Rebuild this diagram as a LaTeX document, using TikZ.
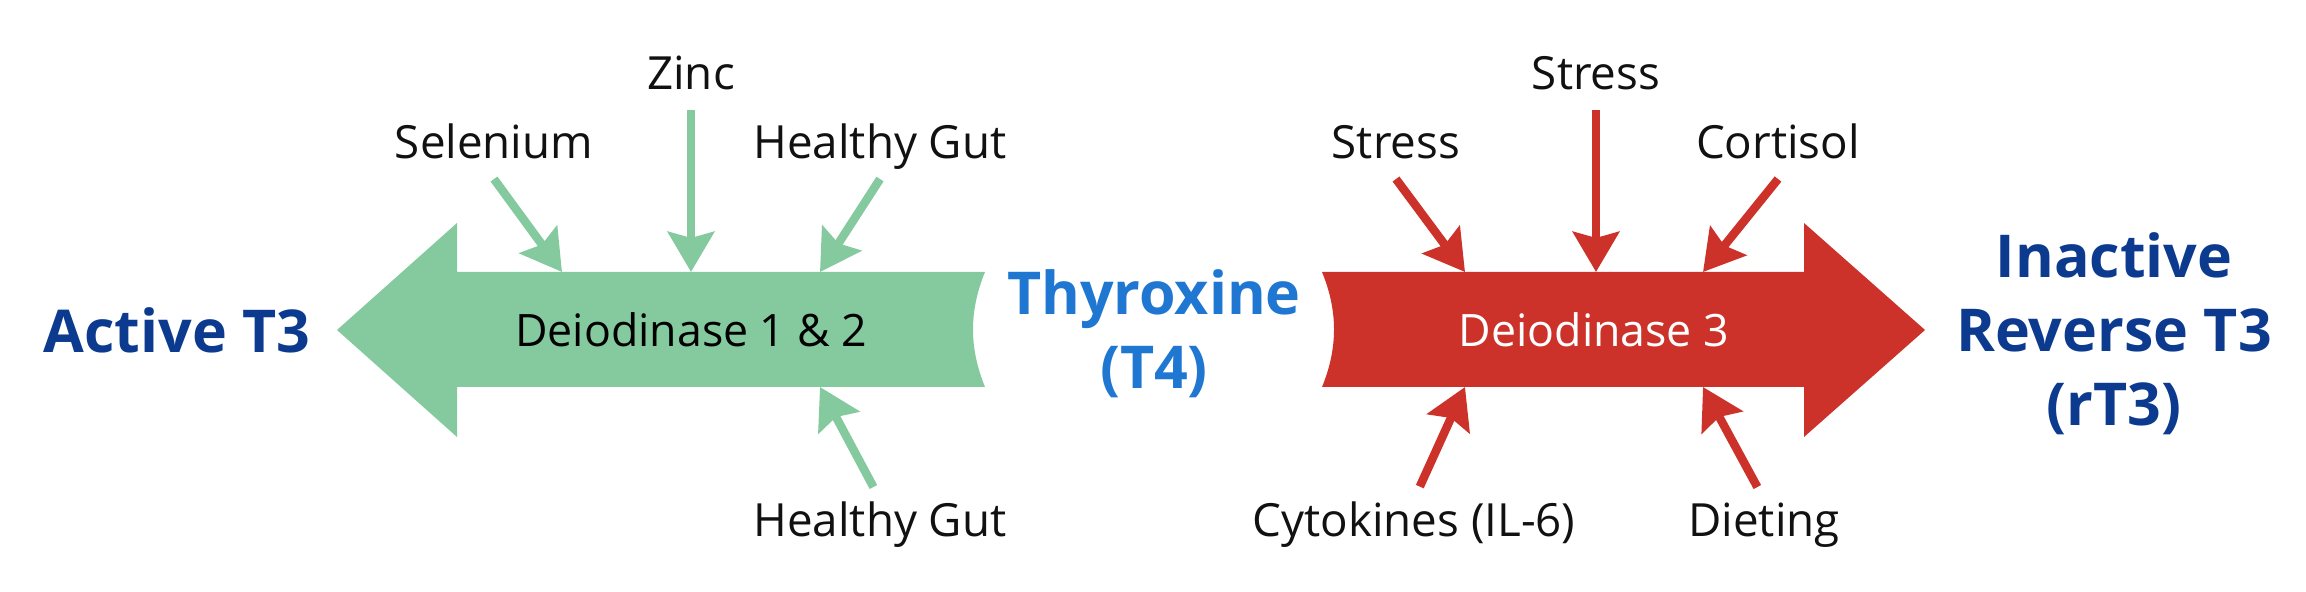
\documentclass[tikz,border=0pt]{standalone}
\usepackage{fontspec}
\setmainfont{Open Sans}
\usepackage{tikz}
\usetikzlibrary{arrows.meta,positioning}
\definecolor{mint}{HTML}{85CA9E}
\definecolor{brick}{HTML}{CC3229}
\definecolor{navy}{HTML}{0C3A8F}
\definecolor{sky}{HTML}{1F77D2}
\definecolor{inkdark}{HTML}{111111}

\begin{document}
\begin{tikzpicture}[
  x=0.01cm, y=-0.01cm,
  hormone/.style={font=\bfseries\fontsize{16.8}{21.1}\selectfont, align=center, inner sep=0pt},
  factor/.style={font=\fontsize{13}{16}\selectfont, color=inkdark, text height=0.75em, text depth=0.25em, inner sep=3pt},
  enzyme/.style={font=\fontsize{12.7}{15}\selectfont, anchor=base, inner sep=0pt},
  feed/.style={line width=0.085cm, -{Stealth[length=0.4cm, width=0.46cm, inset=0.06cm]}},
  upfeed/.style={feed, shorten <=0.14cm}
]
  \useasboundingbox (0,0) rectangle (2306,592);

  % the two pathways
  \fill[mint] (985,272) -- (457,272) -- (457,223) -- (337,330) -- (457,437) -- (457,387) -- (985,387)
    .. controls (969,348) and (969,311) .. (985,272) -- cycle;
  \fill[brick] (1322,272) -- (1804,272) -- (1804,223) -- (1925,330) -- (1804,437) -- (1804,387) -- (1322,387)
    .. controls (1338,348) and (1338,311) .. (1322,272) -- cycle;

  \node[enzyme] (d12) at (691,347) {Deiodinase 1 \& 2};
  \node[enzyme, text=white] (d3) at (1594,347) {Deiodinase 3};

  \node[hormone, text=navy] (t3) at (177,330) {Active T3};
  \node[hormone, text=sky] (t4) at (1154,334) {Thyroxine\\(T4)};
  \node[hormone, text=navy] (rt3) at (2114,334) {Inactive\\Reverse T3\\(rT3)};

  % where the factors hit the shafts
  \coordinate (g1) at (562,272);
  \coordinate (g2) at (691,272);
  \coordinate (g3) at (820,272);
  \coordinate (g4) at (820,387);
  \coordinate (r1) at (1465,272);
  \coordinate (r2) at (1596,272);
  \coordinate (r3) at (1703,272);
  \coordinate (r4) at (1465,387);
  \coordinate (r5) at (1703,387);

  \node[factor, anchor=base] (sel) at (494,159) {Selenium};
  \node[factor, anchor=base] (zinc) at (691,90) {Zinc};
  \node[factor, anchor=base] (gut) at (880,159) {Healthy Gut};
  \node[factor, anchor=base] (gutb) at (880,537) {Healthy Gut};

  \node[factor, anchor=base] (str) at (1396,159) {Stress};
  \node[factor, anchor=base] (strtop) at (1596,90) {Stress};
  \node[factor, anchor=base] (cort) at (1778,159) {Cortisol};
  \node[factor, anchor=base] (cyto) at (1414,537) {Cytokines (IL-6)};
  \node[factor, anchor=base] (diet) at (1764,537) {Dieting};

  \draw[feed, mint] (sel.south) -- (g1);
  \draw[feed, mint] (zinc.south) -- (g2);
  \draw[feed, mint] (gut.south) -- (g3);
  \draw[upfeed, mint] (gutb.north) -- (g4);

  \draw[feed, brick] (str.south) -- (r1);
  \draw[feed, brick] (strtop.south) -- (r2);
  \draw[feed, brick] (cort.south) -- (r3);
  \draw[upfeed, brick] (cyto.north) -- (r4);
  \draw[upfeed, brick] (diet.north) -- (r5);
\end{tikzpicture}
\end{document}
